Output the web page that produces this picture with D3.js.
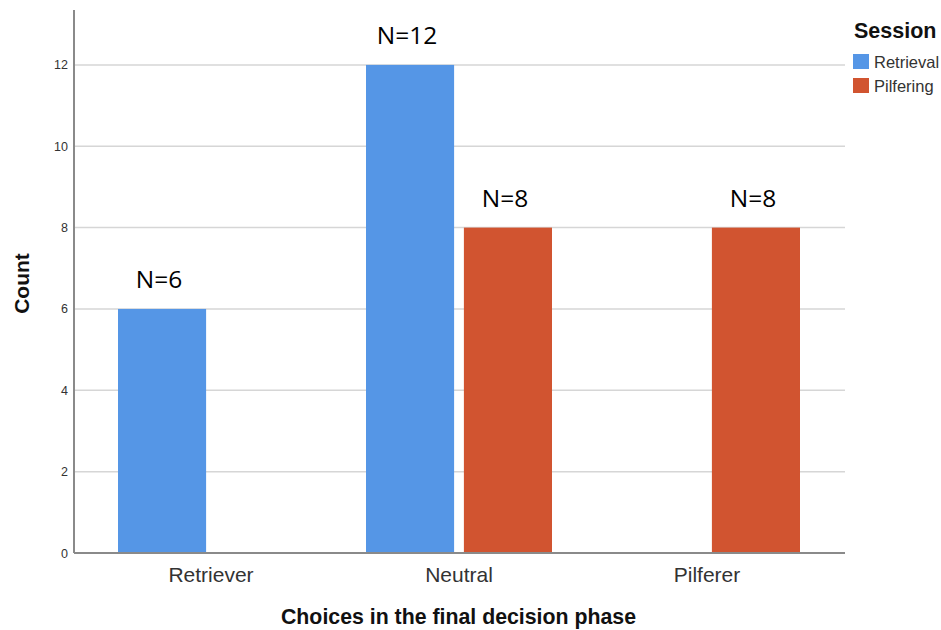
<!DOCTYPE html>
<html>
<head>
<meta charset="utf-8">
<script src="https://cdn.jsdelivr.net/npm/d3@7"></script>
<style>
  html, body { margin: 0; padding: 0; background: #fff; }
  svg { display: block; }
</style>
</head>
<body>
<svg id="chart" width="941" height="630"></svg>
<script>
const categories = ["Retriever", "Neutral", "Pilferer"];
const seriesNames = ["Retrieval", "Pilfering"];
const retrievalValues = [6, 12, 0];
const pilferingValues = [0, 8, 8];
const seriesColors = ["#5596e6", "#d15430"];
const yTicks = [0, 2, 4, 6, 8, 10, 12];
const yMax = 13.35;

const seriesValues = [retrievalValues, pilferingValues];
const data = [];
categories.forEach((c, i) => {
  seriesNames.forEach((s, j) => {
    data.push({ category: c, series: s, value: seriesValues[j][i] });
  });
});

const svg = d3.select("#chart");
const mLeft = 74, mRight = 845, mTop = 10, mBottom = 553;
const sansFont = "'Liberation Sans', Arial, sans-serif";

const y = d3.scaleLinear().domain([0, yMax]).range([mBottom, mTop]);
const x0 = d3.scaleBand().domain(categories).range([87, 831]).padding(0);
const x1 = d3.scaleBand().domain(seriesNames).range([31, 217]).paddingInner(0.1).paddingOuter(0);
const color = d3.scaleOrdinal().domain(seriesNames).range(seriesColors);

// gridlines
svg.append("g").selectAll("line").data(yTicks.filter(d => d > 0)).join("line")
  .attr("x1", mLeft).attr("x2", mRight)
  .attr("y1", d => y(d)).attr("y2", d => y(d))
  .attr("stroke", "#d6d6d6").attr("stroke-width", 1.5);

// bars
svg.append("g").selectAll("rect").data(data.filter(d => d.value > 0)).join("rect")
  .attr("x", d => x0(d.category) + x1(d.series))
  .attr("width", x1.bandwidth())
  .attr("y", d => y(d.value))
  .attr("height", d => y(0) - y(d.value))
  .attr("fill", d => color(d.series));

// N labels
svg.append("g").selectAll("text").data(data.filter(d => d.value > 0)).join("text")
  .attr("x", d => x0(d.category) + x1(d.series) + x1.bandwidth() / 2 - 3)
  .attr("y", d => y(d.value) - 21)
  .attr("text-anchor", "middle")
  .attr("font-family", "'Open Sans', sans-serif")
  .attr("font-size", 24.5)
  .attr("fill", "#000")
  .text(d => "N=" + d.value);

// y axis
const yAxis = svg.append("g").attr("transform", `translate(${mLeft},0)`)
  .call(d3.axisLeft(y).tickValues(yTicks).tickSize(0).tickPadding(6));
yAxis.select(".domain").attr("stroke", "#8a8a8a").attr("stroke-width", 2)
  .attr("d", `M0,${mTop}V${mBottom}`);
yAxis.selectAll("text").attr("font-family", sansFont)
  .attr("font-size", 12.5).attr("fill", "#333");

// x axis
const xAxis = svg.append("g").attr("transform", `translate(0,${mBottom})`)
  .call(d3.axisBottom(x0).tickSize(0).tickPadding(14));
xAxis.select(".domain").attr("stroke", "#8a8a8a").attr("stroke-width", 2)
  .attr("d", `M${mLeft},0H${mRight}`);
xAxis.selectAll("text").attr("font-family", sansFont)
  .attr("font-size", 21).attr("fill", "#333");

// axis titles
svg.append("text")
  .attr("x", (mLeft + mRight) / 2 - 1).attr("y", 624)
  .attr("text-anchor", "middle")
  .attr("font-family", sansFont)
  .attr("font-size", 21.3).attr("font-weight", "bold").attr("fill", "#111")
  .text("Choices in the final decision phase");

svg.append("text")
  .attr("transform", `translate(29,${(mTop + mBottom) / 2 + 2}) rotate(-90)`)
  .attr("text-anchor", "middle")
  .attr("font-family", sansFont)
  .attr("font-size", 21).attr("font-weight", "bold").attr("fill", "#111")
  .text("Count");

// legend
const legend = svg.append("g").attr("transform", "translate(853,0)");
legend.append("text").attr("x", 1).attr("y", 38)
  .attr("font-family", sansFont)
  .attr("font-size", 21.5).attr("font-weight", "bold").attr("fill", "#111")
  .text("Session");
const items = legend.selectAll("g.item").data(seriesNames).join("g")
  .attr("class", "item")
  .attr("transform", (d, i) => `translate(0,${54 + i * 24})`);
items.append("rect").attr("width", 16).attr("height", 15).attr("fill", d => color(d));
items.append("text").attr("x", 21).attr("y", 14)
  .attr("font-family", sansFont)
  .attr("font-size", 16.5).attr("fill", "#333")
  .text(d => d);
</script>
</body>
</html>
